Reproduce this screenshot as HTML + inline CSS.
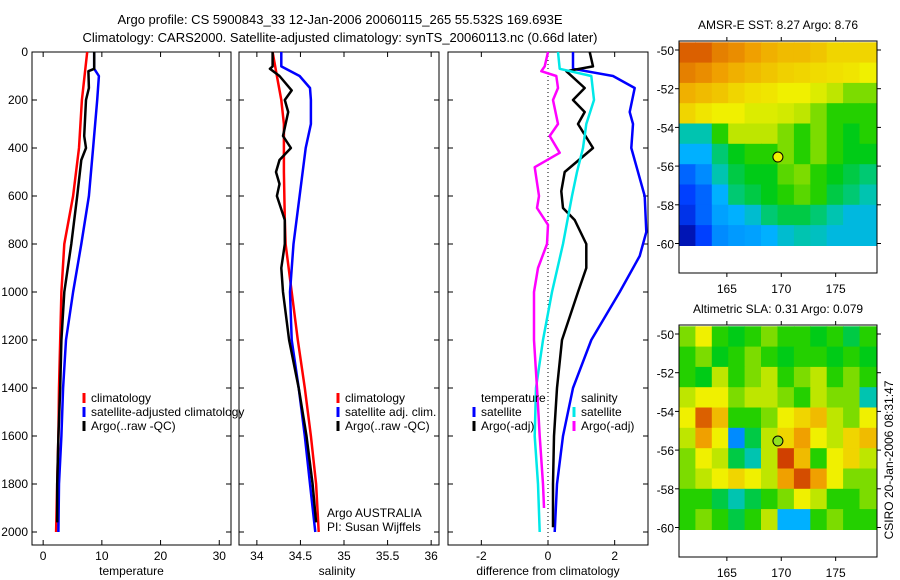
<!DOCTYPE html>
<html><head><meta charset="utf-8">
<style>
html,body{margin:0;padding:0;background:#fff;}
svg{display:block;font-family:"Liberation Sans",sans-serif;font-size:12px;}
</style></head>
<body>
<svg id="fig" width="900" height="580" xmlns="http://www.w3.org/2000/svg">
<text x="340" y="24" text-anchor="middle" font-size="13">Argo profile: CS 5900843_33 12-Jan-2006 20060115_265 55.532S 169.693E</text>
<text x="340" y="42" text-anchor="middle" font-size="13">Climatology: CARS2000. Satellite-adjusted climatology: synTS_20060113.nc (0.66d later)</text>
<g id="layer"></g>
</svg>
<script>
// ---------- data ----------
const depthTicks = [0,200,400,600,800,1000,1200,1400,1600,1800,2000];
const tempTicks = [0,10,20,30];
const salTicks = [34,34.5,35,35.5,36];
const diffTicks = [-2,0,2];
const latTicks = [-50,-52,-54,-56,-58,-60];
const lonTicks = [165,170,175];

const tClimDepth = [0,200,400,600,800,1000,1200,1400,1600,1800,2000];
const tClimVal   = [7.5,6.6,6.1,5.1,3.6,3.1,2.9,2.7,2.6,2.4,2.2];
const tSatDepth = [0,70,100,200,400,600,800,1000,1200,1400,1600,1800,2000];
const tSatVal   = [8.7,8.7,9.5,9.2,8.5,7.8,6.5,5.1,3.9,3.4,3.1,2.7,2.6];
const tArgoDepth = [0,70,80,150,200,350,400,450,600,800,1000,1200,1400,1600,1800,1960];
const tArgoVal   = [8.7,8.7,7.7,7.8,7.3,7.0,7.3,6.5,5.8,4.8,3.6,3.1,2.9,2.6,2.4,2.4];

const sClimDepth = [0,100,200,300,500,700,800,1000,1200,1400,1600,1800,2000];
const sClimVal   = [34.18,34.23,34.28,34.31,34.31,34.32,34.33,34.40,34.47,34.55,34.62,34.68,34.71];
const sSatDepth = [0,60,100,150,200,300,400,600,800,1000,1200,1400,1600,1800,2000];
const sSatVal   = [34.28,34.28,34.49,34.61,34.62,34.62,34.56,34.49,34.42,34.38,34.40,34.48,34.55,34.61,34.67];
const sArgoDepth = [0,60,70,100,160,200,250,350,400,450,500,550,600,700,800,900,1000,1200,1400,1600,1800,1960];
const sArgoVal   = [34.18,34.18,34.15,34.26,34.40,34.32,34.36,34.30,34.39,34.26,34.22,34.26,34.23,34.32,34.32,34.28,34.30,34.37,34.48,34.57,34.64,34.68];

const dTSatDepth = [0,70,100,150,250,300,400,600,750,850,1000,1200,1400,1600,1800,2000];
const dTSatVal   = [0.75,0.75,1.95,2.6,2.45,2.55,2.5,2.9,2.95,2.75,2.15,1.3,0.75,0.45,0.27,0.2];
const dTArgoDepth = [0,60,80,150,200,250,300,400,500,580,650,700,800,900,1000,1200,1400,1600,1800,1980];
const dTArgoVal   = [1.25,1.35,0.55,1.1,0.75,1.1,0.9,1.35,0.5,0.4,0.45,0.8,1.15,1.15,0.9,0.42,0.27,0.18,0.15,0.15];
const dSSatDepth = [0,70,100,200,300,400,500,600,800,1000,1200,1400,1600,1800,2000];
const dSSatVal   = [0.3,0.35,1.3,1.38,1.15,1.05,0.87,0.72,0.45,0.12,-0.15,-0.36,-0.4,-0.3,-0.25];
const dSArgoDepth = [0,60,80,100,150,200,300,350,420,480,600,650,720,800,900,1000,1200,1400,1600,1800,1900];
const dSArgoVal   = [0,-0.1,-0.2,0.25,0.3,0.15,0.3,0.05,0.35,-0.4,-0.27,-0.33,0,-0.03,-0.3,-0.42,-0.42,-0.33,-0.25,-0.15,-0.12];

// maps: rows -50 → -60 (10 rows), cols 161 → 179 (12 cols), normalized colour value 0..1
const sstGrid = [
[0.85,0.85,0.8,0.78,0.75,0.72,0.7,0.7,0.68,0.65,0.65,0.65],
[0.8,0.78,0.75,0.72,0.7,0.68,0.66,0.65,0.64,0.63,0.62,0.6],
[0.72,0.7,0.68,0.65,0.63,0.62,0.6,0.6,0.58,0.55,0.5,0.5],
[0.65,0.62,0.6,0.6,0.58,0.58,0.57,0.55,0.5,0.45,0.45,0.45],
[0.35,0.35,0.45,0.55,0.55,0.55,0.5,0.45,0.5,0.45,0.42,0.45],
[0.3,0.3,0.38,0.42,0.45,0.45,0.5,0.45,0.5,0.45,0.42,0.42],
[0.2,0.25,0.35,0.4,0.42,0.42,0.48,0.5,0.45,0.42,0.4,0.38],
[0.15,0.2,0.3,0.38,0.4,0.42,0.45,0.48,0.45,0.4,0.38,0.35],
[0.12,0.2,0.28,0.3,0.33,0.38,0.4,0.4,0.38,0.35,0.32,0.32],
[0.05,0.15,0.25,0.27,0.28,0.3,0.33,0.35,0.34,0.32,0.32,0.32]];
const slaGrid = [
[0.5,0.6,0.45,0.42,0.45,0.5,0.45,0.45,0.42,0.45,0.4,0.45],
[0.45,0.5,0.42,0.45,0.5,0.45,0.42,0.45,0.45,0.42,0.45,0.42],
[0.45,0.42,0.55,0.45,0.5,0.55,0.45,0.5,0.55,0.45,0.5,0.45],
[0.55,0.6,0.6,0.5,0.55,0.55,0.5,0.45,0.55,0.5,0.5,0.35],
[0.6,0.85,0.7,0.45,0.45,0.5,0.6,0.65,0.7,0.55,0.5,0.6],
[0.55,0.75,0.6,0.25,0.4,0.55,0.65,0.75,0.6,0.55,0.65,0.7],
[0.5,0.6,0.55,0.4,0.35,0.55,0.9,0.7,0.45,0.6,0.65,0.55],
[0.5,0.55,0.6,0.65,0.6,0.55,0.75,0.88,0.75,0.6,0.5,0.5],
[0.45,0.45,0.4,0.35,0.4,0.45,0.5,0.6,0.55,0.45,0.45,0.5],
[0.45,0.5,0.45,0.4,0.45,0.55,0.3,0.3,0.45,0.5,0.45,0.45]];
const argoLon = 169.693, argoLat = -55.532;

// ---------- helpers ----------
const NS="http://www.w3.org/2000/svg";
const layer=document.getElementById('layer');
function mk(tag,attrs,parent){const e=document.createElementNS(NS,tag);for(const k in attrs)e.setAttribute(k,attrs[k]);(parent||layer).appendChild(e);return e;}
function txt(x,y,s,anchor,parent){const t=mk('text',{x:x,y:y,'text-anchor':anchor||'start'},parent);t.textContent=s;return t;}

const yTop=52, yScale=0.24, plotTop=52, plotBot=545;
const yD=d=>yTop+d*yScale;
function panel(name,x0,x1,xmin,xmax,ticks,fmt,label,showY){
  const g=mk('g',{});
  
  
  const xf=v=>x0+(v-xmin)/(xmax-xmin)*(x1-x0);
  const r=mk('rect',{x:x0,y:plotTop,width:x1-x0,height:plotBot-plotTop,fill:'none',stroke:'#000','stroke-width':1},g);
  
  
  ticks.forEach(v=>{const X=xf(v);
    mk('line',{x1:X,x2:X,y1:plotBot,y2:plotBot-5,stroke:'#000'},g);
    mk('line',{x1:X,x2:X,y1:plotTop,y2:plotTop+5,stroke:'#000'},g);
    const t=txt(X,560,fmt(v),'middle',g);
    
    });
  depthTicks.forEach(d=>{const Y=yD(d);
    mk('line',{x1:x0,x2:x0+5,y1:Y,y2:Y,stroke:'#000'},g);
    mk('line',{x1:x1,x2:x1-5,y1:Y,y2:Y,stroke:'#000'},g);
    if(showY){const t=txt(28,Y+4,String(d),'end',g);
      
      }});
  const xl=txt((x0+x1)/2+ (name==='salinity-panel'?-2:0),575,label,'middle',g);
  
  
  return {g,xf};
}
function series(p,depths,vals,color,name,w){
  const pts=depths.map((d,i)=>p.xf(vals[i]).toFixed(1)+','+yD(d).toFixed(1)).join(' ');
  const l=mk('polyline',{points:pts,fill:'none',stroke:color,'stroke-width':w||2.5,'stroke-linejoin':'round'},p.g);
  
  
}
function legendEntry(g,x,y,color,label){
  const e=mk('g',{},g);
  
  
  if(color) mk('line',{x1:x,x2:x,y1:y-9,y2:y+1,stroke:color,'stroke-width':3},e);
  txt(x+7,y,label,'start',e);
}

// ---------- temperature ----------
const pT=panel('temperature-panel',32,231,-1.9,32,tempTicks,v=>String(v),'temperature',true);
series(pT,tClimDepth,tClimVal,'#ff0000','temp-climatology-line');
series(pT,tSatDepth,tSatVal,'#0000ff','temp-satellite-line');
series(pT,tArgoDepth,tArgoVal,'#000000','temp-argo-line');
legendEntry(pT.g,84,402,'#ff0000','climatology');
legendEntry(pT.g,84,416,'#0000ff','satellite-adjusted climatology');
legendEntry(pT.g,84,430,'#000','Argo(..raw -QC)');

// ---------- salinity ----------
const pS=panel('salinity-panel',239,439,33.795,36.09,salTicks,v=>String(v),'salinity',false);
series(pS,sClimDepth,sClimVal,'#ff0000','sal-climatology-line');
series(pS,sSatDepth,sSatVal,'#0000ff','sal-satellite-line');
series(pS,sArgoDepth,sArgoVal,'#000000','sal-argo-line');
legendEntry(pS.g,338,402,'#ff0000','climatology');
legendEntry(pS.g,338,416,'#0000ff','satellite adj. clim.');
legendEntry(pS.g,338,430,'#000','Argo(..raw -QC)');
const a1=txt(327,517,'Argo AUSTRALIA','start',pS.g);


const a2=txt(327,531,'PI: Susan Wijffels','start',pS.g);



// ---------- difference ----------
const pD=panel('difference-panel',448,648,-3,3,diffTicks,v=>String(v),'difference from climatology',false);
const zx=pD.xf(0);
const zl=mk('line',{x1:zx,x2:zx,y1:plotTop,y2:plotBot,stroke:'#000','stroke-dasharray':'1,3'},pD.g);


series(pD,dTSatDepth,dTSatVal,'#0000ff','temp-satellite-diff-line');
series(pD,dTArgoDepth,dTArgoVal,'#000000','temp-argo-diff-line');
series(pD,dSSatDepth,dSSatVal,'#00e8e8','sal-satellite-diff-line');
series(pD,dSArgoDepth,dSArgoVal,'#ff00ff','sal-argo-diff-line');
legendEntry(pD.g,474,402,null,'temperature');
legendEntry(pD.g,474,416,'#0000ff','satellite');
legendEntry(pD.g,474,430,'#000','Argo(-adj)');
legendEntry(pD.g,574,402,null,'salinity');
legendEntry(pD.g,574,416,'#00e8e8','satellite');
legendEntry(pD.g,574,430,'#ff00ff','Argo(-adj)');

// ---------- maps ----------
const stops=[[0,[0,0,144]],[0.15,[0,64,255]],[0.3,[0,176,255]],[0.36,[0,200,160]],[0.43,[0,204,0]],[0.52,[160,224,0]],[0.6,[240,240,0]],[0.75,[240,160,0]],[0.9,[208,64,0]],[1,[176,32,0]]];
function cmap(v){for(let i=1;i<stops.length;i++){if(v<=stops[i][0]){const a=stops[i-1],b=stops[i],t=(v-a[0])/(b[0]-a[0]);return 'rgb('+a[1].map((c,k)=>Math.round(c+(b[1][k]-c)*t)).join(',')+')';}}return 'rgb(176,32,0)';}
function mapPanel(name,title,top,grid,circleFill){
  const g=mk('g',{});
  
  
  const x0=679,x1=877,lonMin=160.6,lonMax=178.8;
  const lat0y=top+9, degY=19.35;
  const xf=lon=>x0+(lon-lonMin)/(lonMax-lonMin)*(x1-x0);
  const yf=lat=>lat0y+(-50-lat)*degY;
  const ylo=yf(-49.6), yhi=yf(-60.1);
  const rows=grid.length, cols=grid[0].length;
  const lonA=160.6, lonB=178.7;
  for(let r=0;r<rows;r++)for(let c=0;c<cols;c++){
    const cx=xf(lonA+(lonB-lonA)*c/cols), cx2=xf(lonA+(lonB-lonA)*(c+1)/cols);
    const cy=ylo+(yhi-ylo)*r/rows, cy2=ylo+(yhi-ylo)*(r+1)/rows;
    const cell=mk('rect',{x:cx.toFixed(1),y:cy.toFixed(1),width:(cx2-cx+0.6).toFixed(1),height:(cy2-cy+0.6).toFixed(1),fill:cmap(grid[r][c])},g);
    
    
  }
  const fr=mk('rect',{x:x0,y:top,width:x1-x0,height:232,fill:'none',stroke:'#000'},g);
  
  
  latTicks.forEach(l=>{const Y=yf(l);
    mk('line',{x1:x0,x2:x0-4,y1:Y,y2:Y,stroke:'#000'},g);
    mk('line',{x1:x1,x2:x1+4,y1:Y,y2:Y,stroke:'#000'},g);
    const t=txt(674,Y+5,String(l),'end',g);
    
    });
  lonTicks.forEach(l=>{const X=xf(l);
    mk('line',{x1:X,x2:X,y1:top,y2:top-4,stroke:'#000'},g);
    mk('line',{x1:X,x2:X,y1:top+232,y2:top+236,stroke:'#000'},g);
    const t=txt(X,top+252,String(l),'middle',g);
    
    });
  const tt=txt(778,top-12,title,'middle',g);
  
  
  const ci=mk('circle',{cx:xf(argoLon),cy:yf(argoLat),r:5,fill:circleFill,stroke:'#000'},g);
  
  
}
mapPanel('sst-map','AMSR-E SST: 8.27 Argo: 8.76',41,sstGrid,'#f0f000');
mapPanel('sla-map','Altimetric SLA: 0.31 Argo: 0.079',325,slaGrid,'#90e020');
const stamp=txt(0,0,'CSIRO 20-Jan-2006 08:31:47','middle');
stamp.setAttribute('transform','translate(893,460) rotate(-90)');


</script>
</body></html>
